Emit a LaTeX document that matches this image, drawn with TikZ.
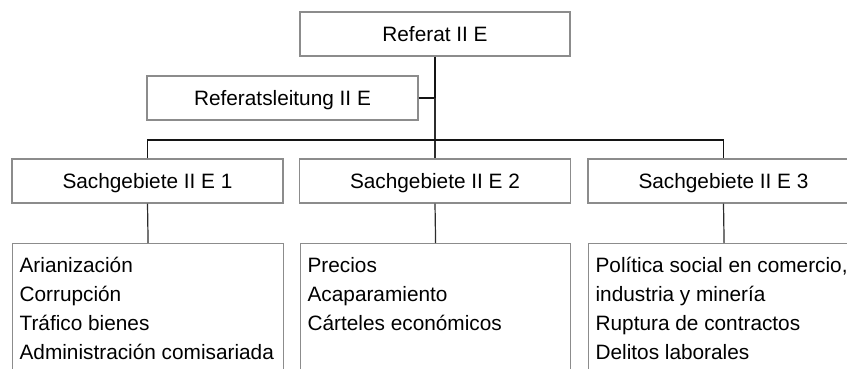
\documentclass[tikz,border=0pt]{standalone}
\usepackage{fontspec}
\setmainfont{Liberation Sans}
\definecolor{boxline}{RGB}{140,140,140}
\definecolor{wire}{RGB}{20,20,20}
\begin{document}
\begin{tikzpicture}[x=1pt,y=-1pt,
  unitbox/.style={draw=boxline,line width=1.2pt,fill=white,rectangle,
    minimum width=271pt,minimum height=44pt,inner sep=0pt,
    text height=15.5pt,text depth=0pt,
    font=\fontsize{20.8}{29}\selectfont},
  listbox/.style={draw=boxline,line width=1.2pt,fill=white,rectangle,
    anchor=north west,inner xsep=7pt,inner ysep=8.7pt,
    font=\fontsize{20.8}{29}\selectfont},
  wire/.style={draw=wire,line width=1.3pt},
  thinwire/.style={draw=wire!90,line width=1.2pt}]
\useasboundingbox (0,0) rectangle (847,369);
\clip (0,0) rectangle (847,369);
\fill[white] (0,0) rectangle (847,369);

\coordinate (bus) at (435,140);

% head of the unit
\node[unitbox,minimum width=270pt] (head) at (435,34) {Referat II E};
\node[unitbox] (lead) at (282.5,98) {Referatsleitung II E};

% the three subject areas
\node[unitbox] (s1) at (147.5,181) {Sachgebiete II E 1};
\node[unitbox] (s2) at (435,181) {Sachgebiete II E 2};
\node[unitbox] (s3) at (723.5,181) {Sachgebiete II E 3};

% task lists
\node[listbox] (l1) at (12,243) {\parbox[t][121pt][t]{257pt}{\raggedright\strut
  Arianización\\Corrupción\\Tráfico bienes\\Administración comisariada}};
\node[listbox] (l2) at (300,243) {\parbox[t][121pt][t]{256pt}{\raggedright\strut
  Precios\\Acaparamiento\\Cárteles económicos}};
\node[listbox] (l3) at (588,243) {\parbox[t][121pt][t]{257pt}{\raggedright\strut
  Política social en comercio,\\industria y minería\\Ruptura de contractos\\Delitos laborales}};

% tree lines
\draw[wire,line width=1.6pt] (head.south) -- (head.south |- lead.east);
\draw[wire] (lead.east) -- (lead.east -| head.south);
\draw[thinwire,line width=1.3pt] (head.south |- lead.east) -- (s2.north);
\draw[wire] (s1.north) -- (s1.north |- bus) -- (s3.north |- bus) -- (s3.north);
\draw[thinwire] (s1.south) -- (l1.north);
\draw[thinwire] (s2.south) -- (l2.north);
\draw[thinwire] (s3.south) -- (l3.north);
\end{tikzpicture}
\end{document}
